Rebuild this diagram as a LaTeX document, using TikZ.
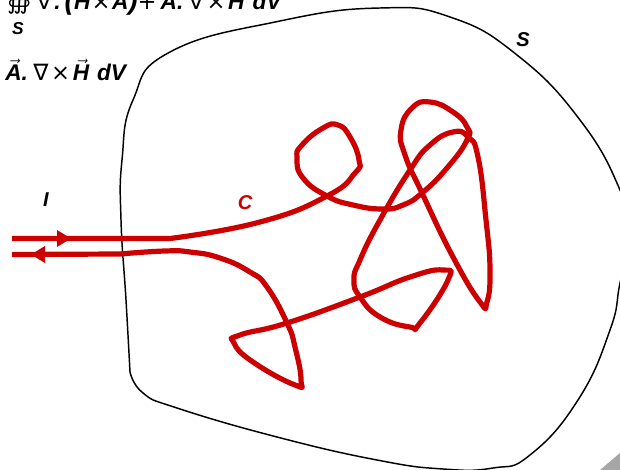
\documentclass[tikz,border=0pt]{standalone}
\usetikzlibrary{arrows.meta,positioning,calc}
\usepackage{amsmath}
\usepackage{amssymb}
\usepackage{fontspec}
\setmainfont{Liberation Sans}
\newfontfamily\symfont{DejaVu Sans}
\definecolor{wirered}{HTML}{CC0000}
\newcommand{\vecbf}[1]{$\vec{\text{\bfseries\itshape #1}}$}
\newcommand{\sym}[1]{{\symfont\mdseries\upshape #1}}
\newcommand{\bigp}[1]{{\fontsize{21}{21}\selectfont #1}}
\tikzset{
    wire/.style={draw=wirered, line width=3.9pt, line join=round},
    surface/.style={draw=black, line width=1.1pt},
    lbl/.style={font=\bfseries\itshape\fontsize{15}{15}\selectfont, inner sep=0pt},
    eqn/.style={font=\bfseries\itshape\fontsize{17}{17}\selectfont, inner sep=0pt, anchor=base west},
    tip/.style={fill=wirered, draw=none}
}
\begin{document}
\begin{tikzpicture}[x=0.75pt,y=-0.75pt]
    \useasboundingbox (0,0) rectangle (620,470);
    \clip (0,0) rectangle (620,470);
    % equation fragments cut by the page edge
    \node[eqn] (eqtop) at (7,10) {\sym{∰}\hspace{4pt}\sym{∇}\hspace{2pt}.\hspace{3pt}\bigp{(}\vecbf{H}\hspace{1pt}\sym{×}\hspace{1pt}\vecbf{A}\bigp{)}\sym{+}\hspace{3pt}\vecbf{A}.\hspace{4pt}\sym{∇}\hspace{2pt}\sym{×}\hspace{2pt}\vecbf{H}\hspace{6pt}dV};
    \node[lbl, font=\bfseries\itshape\fontsize{13}{13}\selectfont] (eqsub) at (18,29) {S};
    \node[eqn] (eqlow) at (5,81) {\vecbf{A}.\hspace{4pt}\sym{∇}\hspace{2pt}\sym{×}\hspace{2pt}\vecbf{H}\hspace{6pt}dV};
    % surface
    \draw[surface] plot[smooth, tension=0.8] coordinates {(130,372) (126,300) (121,220) (122,160) (133,100) (170,52)
        (280,21) (380,8) (450,17) (517,55) (580,120) (620,190) (630,235) (620,283) (610,330) (578,400) (530,455) (493,468)
        (443,469) (377,460) (277,437) (177,408) (143,393) (130,372)};
    \fill[gray!70] (600,470) -- (620,453) -- (620,470) -- cycle;
    % wire
    \draw[wire] (12,238.5) -- (170,238.5) plot[smooth, tension=0.85] coordinates {(170,238.5) (260,222) (327,196) (355,173) (359,160) (350,137) (338,125)
        (323,128) (302,145) (297,158) (303,178) (327,196) (353,205) (383,209) (403,205) (422,193) (447,168) (467,140)
        (467,127) (453,112) (430,102) (412,108) (401,130) (405,155) (422,193) (453,257) (480,302) (487,302)
        (490,270) (486,220) (478,157) (468,137) (453,132) (430,145) (410,170) (380,220) (360,260) (354,280) (360,297)
        (380,317) (410,327) (420,323) (448,280) (443,270) (410,277) (360,297) (287,323) (240,335) (234,343) (253,362)
        (295,385) (301,380) (295,347) (287,323) (267,287) (250,272) (220,258) (190,252) (165,251) (120,254)} -- (12,254.5);
    \fill[tip] (57,230) -- (71,238.5) -- (57,247) -- cycle;
    \fill[tip] (45,246) -- (31,254.5) -- (45,263) -- cycle;
    % labels
    \node[lbl] (lblI) at (46,200) {I};
    \node[lbl, text=wirered] (lblC) at (245,203) {C};
    \node[lbl] (lblS) at (523,40) {S};
\end{tikzpicture}
\end{document}
